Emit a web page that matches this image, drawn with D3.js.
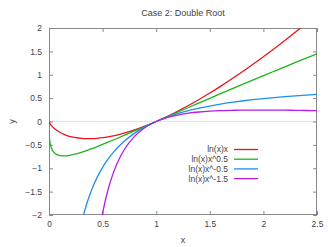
<!DOCTYPE html>
<html><head><meta charset="utf-8">
<script src="https://cdn.jsdelivr.net/npm/d3@7"></script>
<style>
body{margin:0;background:#fff;}
text{font-family:"Liberation Sans",Arial,sans-serif;}
</style></head>
<body><svg id="c" width="330" height="247"></svg>
<script>
const title = "Case 2: Double Root";
const xTicks = [0, 0.5, 1, 1.5, 2, 2.5];
const yTicks = [-2, -1.5, -1, -0.5, 0, 0.5, 1, 1.5, 2];
const seriesNames = ["ln(x)x", "ln(x)x^0.5", "ln(x)x^-0.5", "ln(x)x^-1.5"];
const seriesColors = ["#e8141c", "#1db31d", "#1e8ff0", "#b41ee6"];
const xs = [0.001,0.005,0.01,0.025,0.05,0.075,0.1,0.15,0.2,0.25,0.3,0.35,0.4,0.45,0.5,0.55,0.6,0.65,0.7,0.8,0.9,1.0,1.1,1.2,1.3,1.4,1.5,1.6,1.7,1.8,1.9,2.0,2.1,2.2,2.3,2.4,2.5];
const yLnX = [-0.0069,-0.0265,-0.0461,-0.0922,-0.1498,-0.1943,-0.2303,-0.2846,-0.3219,-0.3466,-0.3612,-0.3674,-0.3665,-0.3593,-0.3466,-0.3288,-0.3065,-0.2800,-0.2497,-0.1785,-0.0949,0,0.1048,0.2188,0.3411,0.4711,0.6082,0.7520,0.9020,1.0580,1.2196,1.3863,1.5580,1.7347,1.9157,2.1012,2.2908];
const yLnXsqrt = [-0.2184,-0.3746,-0.4605,-0.5832,-0.6698,-0.7095,-0.7281,-0.7347,-0.7197,-0.6931,-0.6594,-0.6211,-0.5796,-0.5356,-0.4901,-0.4433,-0.3957,-0.3473,-0.2984,-0.1996,-0.1000,0,0.0999,0.1997,0.2992,0.3981,0.4966,0.5945,0.6918,0.7886,0.8848,0.9802,1.0751,1.1695,1.2632,1.3563,1.4488];
const yLnXinvSqrt = [null,null,null,null,null,null,null,null,null,-2.7726,-2.1983,-1.7745,-1.4487,-1.1904,-0.9802,-0.8061,-0.6594,-0.5344,-0.4263,-0.2494,-0.1111,0,0.0909,0.1664,0.2301,0.2844,0.3311,0.3716,0.4070,0.4381,0.4657,0.4901,0.5120,0.5316,0.5492,0.5651,0.5795];
const yLnXinv15 = [null,null,null,null,null,null,null,null,null,null,null,null,null,-2.6453,-1.9604,-1.4656,-1.0990,-0.8221,-0.6090,-0.3118,-0.1234,0,0.0826,0.1387,0.1770,0.2031,0.2207,0.2323,0.2394,0.2434,0.2451,0.2451,0.2438,0.2416,0.2388,0.2355,0.2318];
const seriesValues = [yLnX, yLnXsqrt, yLnXinvSqrt, yLnXinv15];

const svg = d3.select("#c");
const L = 49, R = 317, T = 28, B = 215;
const x = d3.scaleLinear().domain([0, 2.5]).range([L, R]);
const y = d3.scaleLinear().domain([-2, 2]).range([B, T]);
const axisColor = "#8a8a8a", textColor = "#444";

svg.append("defs").append("clipPath").attr("id","clip")
  .append("rect").attr("x",L).attr("y",T).attr("width",R-L).attr("height",B-T);

// zero line
svg.append("line").attr("x1",L).attr("x2",R).attr("y1",y(0)).attr("y2",y(0))
  .attr("stroke","#e2e2e2").attr("stroke-width",1);

// axes
const ax = (g) => g.selectAll(".domain").remove();
svg.append("g").attr("transform",`translate(0,${B})`)
  .call(d3.axisBottom(x).tickValues(xTicks).tickSize(-4).tickPadding(6).tickFormat(d3.format("~g")))
  .call(ax).call(g=>{g.selectAll("line").attr("stroke",axisColor);g.selectAll("text").attr("fill",textColor).attr("font-size",8.5).attr("font-family","Liberation Sans, Arial, sans-serif");});
svg.append("g").attr("transform",`translate(0,${T})`)
  .call(d3.axisTop(x).tickValues(xTicks).tickSize(-4).tickFormat(""))
  .call(ax).call(g=>g.selectAll("line").attr("stroke",axisColor));
svg.append("g").attr("transform",`translate(${L},0)`)
  .call(d3.axisLeft(y).tickValues(yTicks).tickSize(-4).tickPadding(7).tickFormat(d3.format("~g")))
  .call(ax).call(g=>{g.selectAll("line").attr("stroke",axisColor);g.selectAll("text").attr("fill",textColor).attr("font-size",8.5).attr("font-family","Liberation Sans, Arial, sans-serif");});
svg.append("g").attr("transform",`translate(${R},0)`)
  .call(d3.axisRight(y).tickValues(yTicks).tickSize(-4).tickFormat(""))
  .call(ax).call(g=>g.selectAll("line").attr("stroke",axisColor));

svg.append("rect").attr("x",L+0.5).attr("y",T+0.5).attr("width",R-L-1).attr("height",B-T-1)
  .attr("fill","none").attr("stroke",axisColor).attr("stroke-width",1);

// lines
const line = d3.line().defined(d=>d[1]!==null).x(d=>x(d[0])).y(d=>y(d[1])).curve(d3.curveMonotoneX);
const g = svg.append("g").attr("clip-path","url(#clip)");
seriesValues.forEach((vals,i)=>{
  g.append("path").datum(xs.map((xv,j)=>[xv, vals[j]]))
    .attr("d",line).attr("fill","none").attr("stroke",seriesColors[i]).attr("stroke-width",1.3);
});

// legend
seriesNames.forEach((n,i)=>{
  const yy = 149.5 + i*9.7;
  svg.append("text").attr("x",228).attr("y",yy).attr("dy","0.35em").attr("text-anchor","end")
    .attr("font-size",8.5).attr("fill",textColor).text(n);
  svg.append("line").attr("x1",234).attr("x2",258).attr("y1",yy).attr("y2",yy)
    .attr("stroke",seriesColors[i]).attr("stroke-width",1.3);
});

// titles
svg.append("text").attr("x",(L+R)/2).attr("y",13).attr("dy","0.35em").attr("text-anchor","middle")
  .attr("font-size",9).attr("fill",textColor).text(title);
svg.append("text").attr("x",(L+R)/2).attr("y",240).attr("dy","0.35em").attr("text-anchor","middle")
  .attr("font-size",9).attr("fill",textColor).text("x");
svg.append("text").attr("transform",`translate(12,${(T+B)/2}) rotate(-90)`).attr("dy","0.35em").attr("text-anchor","middle")
  .attr("font-size",9).attr("fill",textColor).text("y");
</script></body></html>
